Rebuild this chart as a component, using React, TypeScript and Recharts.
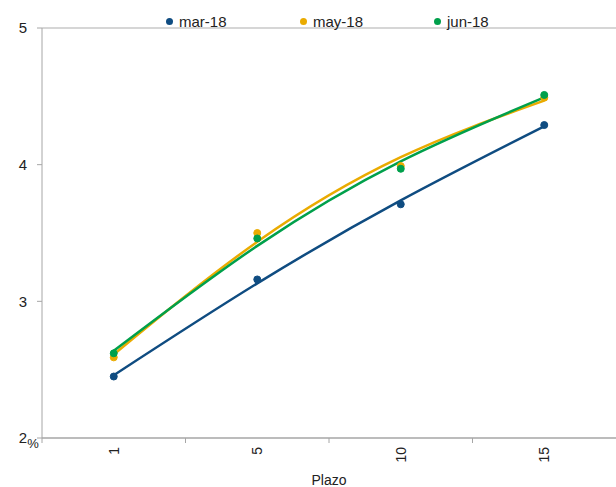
import { LineChart, Line, XAxis, YAxis, Legend, ReferenceLine } from 'recharts'

const plazo = ['1', '5', '10', '15']
const mar18 = [2.45, 3.16, 3.71, 4.29]
const may18 = [2.59, 3.5, 3.99, 4.49]
const jun18 = [2.62, 3.46, 3.97, 4.51]
const yTicks = [2, 3, 4, 5]

const series = [
  { key: 'mar18', name: 'mar-18', color: '#0f4c81', values: mar18 },
  { key: 'may18', name: 'may-18', color: '#eaab00', values: may18 },
  { key: 'jun18', name: 'jun-18', color: '#00a04b', values: jun18 },
]

// 2nd order polynomial trendline (least squares on category index 1..n, like Excel)
function quadTrend(ys: number[]) {
  const xs = ys.map((_, i) => i + 1)
  const s = (f: (x: number, y: number) => number) => xs.reduce((acc, x, i) => acc + f(x, ys[i]), 0)
  const m = [
    [xs.length, s(x => x), s(x => x * x), s((_, y) => y)],
    [s(x => x), s(x => x * x), s(x => x ** 3), s((x, y) => x * y)],
    [s(x => x * x), s(x => x ** 3), s(x => x ** 4), s((x, y) => x * x * y)],
  ]
  for (let c = 0; c < 3; c++) {
    for (let r = c + 1; r < 3; r++) {
      const k = m[r][c] / m[c][c]
      for (let j = c; j < 4; j++) m[r][j] -= k * m[c][j]
    }
  }
  const coef = [0, 0, 0]
  for (let r = 2; r >= 0; r--) {
    let v = m[r][3]
    for (let j = r + 1; j < 3; j++) v -= m[r][j] * coef[j]
    coef[r] = v / m[r][r]
  }
  return xs.map(x => coef[0] + coef[1] * x + coef[2] * x * x)
}

const trends = series.map(s => quadTrend(s.values))

const data = plazo.map((p, i) => {
  const row: Record<string, string | number> = { plazo: p }
  series.forEach((s, k) => {
    row[s.key] = s.values[i]
    row[s.key + 'Trend'] = trends[k][i]
  })
  return row
})

const AXIS = '#a6a6a6'

// rotated category label + tick mark on the band boundary (Excel style)
function XTick(props: any) {
  const { x, y, payload, width } = props
  const band = width / plazo.length
  const axisY = y - 9
  return (
    <g>
      <line x1={x - band / 2} x2={x - band / 2} y1={axisY} y2={axisY + 5} stroke={AXIS} />
      <text x={x} y={y} transform={`rotate(-90, ${x}, ${y})`} textAnchor="end" dy="0.35em" fontSize={14} fill="#222">
        {payload.value}
      </text>
    </g>
  )
}

function LegendContent() {
  return (
    <div style={{ display: 'flex', height: 20, alignItems: 'center', paddingLeft: 166 }}>
      {series.map(s => (
        <div key={s.key} style={{ width: 134, display: 'flex', alignItems: 'center', fontSize: 15, color: '#222' }}>
          <span style={{ width: 7, height: 7, borderRadius: '50%', background: s.color, marginRight: 6 }} />
          {s.name}
        </div>
      ))}
    </div>
  )
}

export default function App() {
  return (
    <div style={{ position: 'absolute', left: 0, top: 0, fontFamily: '"Liberation Sans", Arial, sans-serif' }}>
      <LineChart width={616} height={487} data={data} margin={{ top: 8, right: 0, bottom: 0, left: 0 }}>
        <Legend verticalAlign="top" content={<LegendContent />} wrapperStyle={{ top: 11, left: 0, width: 616 }} />
        <ReferenceLine y={5} stroke="#c8c8c8" strokeWidth={1.5} />
        <XAxis
          dataKey="plazo"
          scale="band"
          height={49}
          tickLine={false}
          tickSize={5}
          tickMargin={4}
          stroke={AXIS}
          strokeWidth={1.5}
          tick={<XTick />}
          interval={0}
          label={{ value: 'Plazo', position: 'insideBottom', offset: 2, fontSize: 14, fill: '#222' }}
        />
        <YAxis
          domain={[2, 5]}
          ticks={yTicks}
          width={42}
          tickSize={5}
          tickMargin={10}
          stroke={AXIS}
          tick={{ fontSize: 15, fill: '#222' }}
          label={{
            value: '%',
            content: (p: any) => (
              <text x={p.viewBox.x + p.viewBox.width - 9} y={p.viewBox.y + p.viewBox.height + 10} textAnchor="middle" fontSize={13} fill="#222">
                %
              </text>
            ),
          }}
        />
        {series.map(s => (
          <Line
            key={s.key}
            dataKey={s.key}
            name={s.name}
            stroke="none"
            legendType="none"
            dot={{ r: 3.5, fill: s.color, stroke: s.color, strokeWidth: 1 }}
            activeDot={false}
            isAnimationActive={false}
          />
        ))}
        {series.map(s => (
          <Line
            key={s.key + 'Trend'}
            dataKey={s.key + 'Trend'}
            type="natural"
            stroke={s.color}
            strokeWidth={2.5}
            dot={false}
            activeDot={false}
            legendType="none"
            isAnimationActive={false}
          />
        ))}
      </LineChart>
    </div>
  )
}
